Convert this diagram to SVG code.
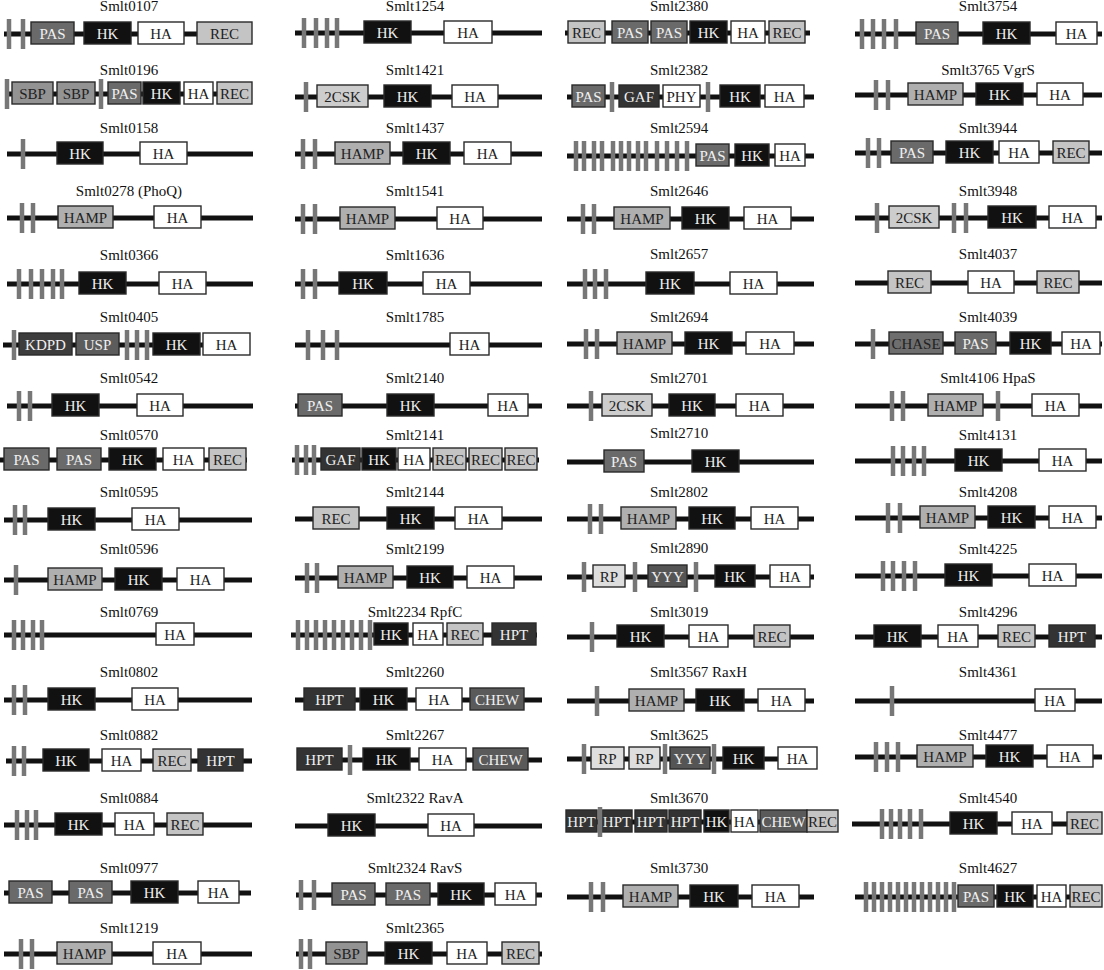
<svg xmlns="http://www.w3.org/2000/svg" width="1104" height="970" viewBox="0 0 1104 970">
<style>
.bb{stroke:#111;stroke-width:5}
.tm{fill:#777}
.b{stroke:#2a2a2a;stroke-width:1.4}
.hk{fill:#111}.ha,.phy{fill:#fff}.pas{fill:#6a6a6a}.rec{fill:#c4c4c4}.hamp{fill:#afafaf}
.sbp{fill:#939393}.hpt,.gaf{fill:#333}.kdpd{fill:#3d3d3d}.usp{fill:#5c5c5c}.chew{fill:#5a5a5a}
.yyy{fill:#555}.chase{fill:#6e6e6e}.csk{fill:#cdcdcd}.rp{fill:#dedede}
text{font-family:"Liberation Serif","Times New Roman",serif;font-size:15px;text-anchor:middle}
.w{fill:#f0f0f0}.k{fill:#222}.t{fill:#111}.ts{text-anchor:start}
</style>
<g id="nodes">
<!-- Column 1 -->
<g id="smlt0107" transform="translate(0,34)"><text class="t" x="129" y="-23">Smlt0107</text><line class="bb" x1="4" x2="252" y1="0" y2="0"/>
<rect class="b pas" x="31" y="-12" width="43" height="22"/><text class="w" x="52.5" y="5">PAS</text>
<rect class="b hk" x="84" y="-12" width="47" height="22"/><text class="w" x="107.5" y="5">HK</text>
<rect class="b ha" x="138" y="-12" width="46" height="22"/><text class="k" x="161" y="5">HA</text>
<rect class="b rec" x="197" y="-12" width="55" height="22"/><text class="k" x="224.5" y="5">REC</text>
<rect class="tm" x="6.75" y="-15" width="4.5" height="30"/><rect class="tm" x="20.75" y="-15" width="4.5" height="30"/></g>

<g id="smlt0196" transform="translate(0,94)"><text class="t" x="129" y="-19">Smlt0196</text><line class="bb" x1="5" x2="252" y1="0" y2="0"/>
<rect class="b sbp" x="12" y="-12" width="41" height="22"/><text class="k" x="32.5" y="5">SBP</text>
<rect class="b sbp" x="57" y="-12" width="38" height="22"/><text class="k" x="76" y="5">SBP</text>
<rect class="b pas" x="108" y="-12" width="33" height="22"/><text class="w" x="124.5" y="5">PAS</text>
<rect class="b hk" x="143" y="-12" width="37" height="22"/><text class="w" x="161.5" y="5">HK</text>
<rect class="b ha" x="184" y="-12" width="29" height="22"/><text class="k" x="198.5" y="5">HA</text>
<rect class="b rec" x="217" y="-12" width="35" height="22"/><text class="k" x="234.5" y="5">REC</text>
<rect class="tm" x="4.75" y="-15" width="4.5" height="30"/><rect class="tm" x="98.75" y="-15" width="4.5" height="30"/></g>

<g id="smlt0158" transform="translate(0,154)"><text class="t" x="129" y="-21">Smlt0158</text><line class="bb" x1="7" x2="253" y1="0" y2="0"/>
<rect class="b hk" x="57" y="-12" width="46" height="22"/><text class="w" x="80" y="5">HK</text>
<rect class="b ha" x="140" y="-12" width="47" height="22"/><text class="k" x="163.5" y="5">HA</text>
<rect class="tm" x="20.75" y="-15" width="4.5" height="30"/></g>

<g id="smlt0278" transform="translate(0,218)"><text class="t" x="129" y="-22">Smlt0278 (PhoQ)</text><line class="bb" x1="7" x2="253" y1="0" y2="0"/>
<rect class="b hamp" x="58" y="-12" width="55" height="22"/><text class="k" x="85.5" y="5">HAMP</text>
<rect class="b ha" x="154" y="-12" width="47" height="22"/><text class="k" x="177.5" y="5">HA</text>
<rect class="tm" x="19.75" y="-15" width="4.5" height="30"/><rect class="tm" x="30.75" y="-15" width="4.5" height="30"/></g>

<g id="smlt0366" transform="translate(0,284)"><text class="t" x="129" y="-24">Smlt0366</text><line class="bb" x1="7" x2="253" y1="0" y2="0"/>
<rect class="b hk" x="79" y="-12" width="47" height="22"/><text class="w" x="102.5" y="5">HK</text>
<rect class="b ha" x="159" y="-12" width="47" height="22"/><text class="k" x="182.5" y="5">HA</text>
<rect class="tm" x="16.75" y="-15" width="4.5" height="30"/><rect class="tm" x="28.75" y="-15" width="4.5" height="30"/><rect class="tm" x="39.75" y="-15" width="4.5" height="30"/><rect class="tm" x="50.75" y="-15" width="4.5" height="30"/><rect class="tm" x="59.75" y="-15" width="4.5" height="30"/></g>

<g id="smlt0405" transform="translate(0,345)"><text class="t" x="129" y="-23">Smlt0405</text><line class="bb" x1="3" x2="250" y1="0" y2="0"/>
<rect class="b kdpd" x="19" y="-12" width="53" height="22"/><text class="w" x="45.5" y="5">KDPD</text>
<rect class="b usp" x="76" y="-12" width="43" height="22"/><text class="w" x="97.5" y="5">USP</text>
<rect class="b hk" x="153" y="-12" width="47" height="22"/><text class="w" x="176.5" y="5">HK</text>
<rect class="b ha" x="203" y="-12" width="47" height="22"/><text class="k" x="226.5" y="5">HA</text>
<rect class="tm" x="11.75" y="-15" width="4.5" height="30"/><rect class="tm" x="124.75" y="-15" width="4.5" height="30"/><rect class="tm" x="134.75" y="-15" width="4.5" height="30"/><rect class="tm" x="144.75" y="-15" width="4.5" height="30"/></g>

<g id="smlt0542" transform="translate(0,406)"><text class="t" x="129" y="-23">Smlt0542</text><line class="bb" x1="7" x2="253" y1="0" y2="0"/>
<rect class="b hk" x="52" y="-12" width="47" height="22"/><text class="w" x="75.5" y="5">HK</text>
<rect class="b ha" x="137" y="-12" width="46" height="22"/><text class="k" x="160" y="5">HA</text>
<rect class="tm" x="16.75" y="-15" width="4.5" height="30"/><rect class="tm" x="27.75" y="-15" width="4.5" height="30"/></g>

<g id="smlt0570" transform="translate(0,460)"><text class="t" x="129" y="-20">Smlt0570</text><line class="bb" x1="0" x2="247" y1="0" y2="0"/>
<rect class="b pas" x="4" y="-12" width="45" height="22"/><text class="w" x="26.5" y="5">PAS</text>
<rect class="b pas" x="57" y="-12" width="44" height="22"/><text class="w" x="79" y="5">PAS</text>
<rect class="b hk" x="109" y="-12" width="47" height="22"/><text class="w" x="132.5" y="5">HK</text>
<rect class="b ha" x="163" y="-12" width="41" height="22"/><text class="k" x="183.5" y="5">HA</text>
<rect class="b rec" x="209" y="-12" width="37" height="22"/><text class="k" x="227.5" y="5">REC</text></g>

<g id="smlt0595" transform="translate(0,520)"><text class="t" x="129" y="-23">Smlt0595</text><line class="bb" x1="4" x2="252" y1="0" y2="0"/>
<rect class="b hk" x="48" y="-12" width="47" height="22"/><text class="w" x="71.5" y="5">HK</text>
<rect class="b ha" x="132" y="-12" width="47" height="22"/><text class="k" x="155.5" y="5">HA</text>
<rect class="tm" x="12.75" y="-15" width="4.5" height="30"/><rect class="tm" x="22.75" y="-15" width="4.5" height="30"/></g>

<g id="smlt0596" transform="translate(0,580)"><text class="t" x="129" y="-26">Smlt0596</text><line class="bb" x1="4" x2="252" y1="0" y2="0"/>
<rect class="b hamp" x="48" y="-12" width="54" height="22"/><text class="k" x="75" y="5">HAMP</text>
<rect class="b hk" x="115" y="-12" width="47" height="22"/><text class="w" x="138.5" y="5">HK</text>
<rect class="b ha" x="177" y="-12" width="47" height="22"/><text class="k" x="200.5" y="5">HA</text>
<rect class="tm" x="13.75" y="-15" width="4.5" height="30"/></g>

<g id="smlt0769" transform="translate(0,635)"><text class="t" x="129" y="-18">Smlt0769</text><line class="bb" x1="4" x2="252" y1="0" y2="0"/>
<rect class="b ha" x="156" y="-12" width="38" height="22"/><text class="k" x="175" y="5">HA</text>
<rect class="tm" x="11.75" y="-15" width="4.5" height="30"/><rect class="tm" x="20.75" y="-15" width="4.5" height="30"/><rect class="tm" x="30.75" y="-15" width="4.5" height="30"/><rect class="tm" x="39.75" y="-15" width="4.5" height="30"/></g>

<g id="smlt0802" transform="translate(0,700)"><text class="t" x="129" y="-23">Smlt0802</text><line class="bb" x1="4" x2="252" y1="0" y2="0"/>
<rect class="b hk" x="48" y="-12" width="47" height="22"/><text class="w" x="71.5" y="5">HK</text>
<rect class="b ha" x="132" y="-12" width="46" height="22"/><text class="k" x="155" y="5">HA</text>
<rect class="tm" x="11.75" y="-15" width="4.5" height="30"/><rect class="tm" x="22.75" y="-15" width="4.5" height="30"/></g>

<g id="smlt0882" transform="translate(0,761)"><text class="t" x="129" y="-21">Smlt0882</text><line class="bb" x1="6" x2="252" y1="0" y2="0"/>
<rect class="b hk" x="43" y="-12" width="46" height="22"/><text class="w" x="66" y="5">HK</text>
<rect class="b ha" x="102" y="-12" width="39" height="22"/><text class="k" x="121.5" y="5">HA</text>
<rect class="b rec" x="153" y="-12" width="38" height="22"/><text class="k" x="172" y="5">REC</text>
<rect class="b hpt" x="198" y="-12" width="45" height="22"/><text class="w" x="220.5" y="5">HPT</text>
<rect class="tm" x="11.75" y="-15" width="4.5" height="30"/><rect class="tm" x="21.75" y="-15" width="4.5" height="30"/></g>

<g id="smlt0884" transform="translate(0,825)"><text class="t" x="129" y="-22">Smlt0884</text><line class="bb" x1="4" x2="252" y1="0" y2="0"/>
<rect class="b hk" x="55" y="-12" width="47" height="22"/><text class="w" x="78.5" y="5">HK</text>
<rect class="b ha" x="115" y="-12" width="39" height="22"/><text class="k" x="134.5" y="5">HA</text>
<rect class="b rec" x="167" y="-12" width="36" height="22"/><text class="k" x="185" y="5">REC</text>
<rect class="tm" x="14.75" y="-15" width="4.5" height="30"/><rect class="tm" x="24.75" y="-15" width="4.5" height="30"/><rect class="tm" x="33.75" y="-15" width="4.5" height="30"/></g>

<g id="smlt0977" transform="translate(0,893)"><text class="t" x="129" y="-20">Smlt0977</text><line class="bb" x1="4" x2="251" y1="0" y2="0"/>
<rect class="b pas" x="9" y="-12" width="43" height="22"/><text class="w" x="30.5" y="5">PAS</text>
<rect class="b pas" x="69" y="-12" width="43" height="22"/><text class="w" x="90.5" y="5">PAS</text>
<rect class="b hk" x="131" y="-12" width="47" height="22"/><text class="w" x="154.5" y="5">HK</text>
<rect class="b ha" x="198" y="-12" width="41" height="22"/><text class="k" x="218.5" y="5">HA</text></g>

<g id="smlt1219" transform="translate(0,954)"><text class="t" x="129" y="-21">Smlt1219</text><line class="bb" x1="4" x2="252" y1="0" y2="0"/>
<rect class="b hamp" x="57" y="-12" width="55" height="22"/><text class="k" x="84.5" y="5">HAMP</text>
<rect class="b ha" x="153" y="-12" width="48" height="22"/><text class="k" x="177" y="5">HA</text>
<rect class="tm" x="18.75" y="-15" width="4.5" height="30"/><rect class="tm" x="29.75" y="-15" width="4.5" height="30"/></g>

<!-- Column 2 -->
<g id="smlt1254" transform="translate(0,33)"><text class="t" x="415" y="-22">Smlt1254</text><line class="bb" x1="295" x2="542" y1="0" y2="0"/>
<rect class="b hk" x="364" y="-12" width="47" height="22"/><text class="w" x="387.5" y="5">HK</text>
<rect class="b ha" x="444" y="-12" width="48" height="22"/><text class="k" x="468" y="5">HA</text>
<rect class="tm" x="301.75" y="-15" width="4.5" height="30"/><rect class="tm" x="313.75" y="-15" width="4.5" height="30"/><rect class="tm" x="324.75" y="-15" width="4.5" height="30"/><rect class="tm" x="334.75" y="-15" width="4.5" height="30"/></g>

<g id="smlt1421" transform="translate(0,97)"><text class="t" x="415" y="-22">Smlt1421</text><line class="bb" x1="295" x2="542" y1="0" y2="0"/>
<rect class="b csk" x="317" y="-12" width="51" height="22"/><text class="k" x="342.5" y="5">2CSK</text>
<rect class="b hk" x="384" y="-12" width="47" height="22"/><text class="w" x="407.5" y="5">HK</text>
<rect class="b ha" x="452" y="-12" width="46" height="22"/><text class="k" x="475" y="5">HA</text>
<rect class="tm" x="303.75" y="-15" width="4.5" height="30"/></g>

<g id="smlt1437" transform="translate(0,154)"><text class="t" x="415" y="-21">Smlt1437</text><line class="bb" x1="295" x2="542" y1="0" y2="0"/>
<rect class="b hamp" x="335" y="-12" width="55" height="22"/><text class="k" x="362.5" y="5">HAMP</text>
<rect class="b hk" x="403" y="-12" width="47" height="22"/><text class="w" x="426.5" y="5">HK</text>
<rect class="b ha" x="464" y="-12" width="47" height="22"/><text class="k" x="487.5" y="5">HA</text>
<rect class="tm" x="300.75" y="-15" width="4.5" height="30"/><rect class="tm" x="312.75" y="-15" width="4.5" height="30"/></g>

<g id="smlt1541" transform="translate(0,219)"><text class="t" x="415" y="-23">Smlt1541</text><line class="bb" x1="295" x2="542" y1="0" y2="0"/>
<rect class="b hamp" x="340" y="-12" width="55" height="22"/><text class="k" x="367.5" y="5">HAMP</text>
<rect class="b ha" x="437" y="-12" width="46" height="22"/><text class="k" x="460" y="5">HA</text>
<rect class="tm" x="300.75" y="-15" width="4.5" height="30"/><rect class="tm" x="312.75" y="-15" width="4.5" height="30"/></g>

<g id="smlt1636" transform="translate(0,284)"><text class="t" x="415" y="-24">Smlt1636</text><line class="bb" x1="295" x2="542" y1="0" y2="0"/>
<rect class="b hk" x="339" y="-12" width="48" height="22"/><text class="w" x="363" y="5">HK</text>
<rect class="b ha" x="423" y="-12" width="47" height="22"/><text class="k" x="446.5" y="5">HA</text>
<rect class="tm" x="300.75" y="-15" width="4.5" height="30"/><rect class="tm" x="312.75" y="-15" width="4.5" height="30"/></g>

<g id="smlt1785" transform="translate(0,345)"><text class="t" x="415" y="-23">Smlt1785</text><line class="bb" x1="295" x2="542" y1="0" y2="0"/>
<rect class="b ha" x="450" y="-12" width="39" height="22"/><text class="k" x="469.5" y="5">HA</text>
<rect class="tm" x="305.75" y="-15" width="4.5" height="30"/><rect class="tm" x="320.75" y="-15" width="4.5" height="30"/><rect class="tm" x="334.75" y="-15" width="4.5" height="30"/></g>

<g id="smlt2140" transform="translate(0,406)"><text class="t" x="415" y="-23">Smlt2140</text><line class="bb" x1="295" x2="542" y1="0" y2="0"/>
<rect class="b pas" x="298" y="-12" width="44" height="22"/><text class="w" x="320" y="5">PAS</text>
<rect class="b hk" x="387" y="-12" width="47" height="22"/><text class="w" x="410.5" y="5">HK</text>
<rect class="b ha" x="488" y="-12" width="40" height="22"/><text class="k" x="508" y="5">HA</text></g>

<g id="smlt2141" transform="translate(0,460)"><text class="t" x="415" y="-20">Smlt2141</text><line class="bb" x1="292" x2="539" y1="0" y2="0"/>
<rect class="b gaf" x="321" y="-12" width="39" height="22"/><text class="w" x="340.5" y="5">GAF</text>
<rect class="b hk" x="362" y="-12" width="34" height="22"/><text class="w" x="379" y="5">HK</text>
<rect class="b ha" x="398" y="-12" width="32" height="22"/><text class="k" x="414" y="5">HA</text>
<rect class="b rec" x="433" y="-12" width="33" height="22"/><text class="k" x="449.5" y="5">REC</text>
<rect class="b rec" x="469" y="-12" width="33" height="22"/><text class="k" x="485.5" y="5">REC</text>
<rect class="b rec" x="505" y="-12" width="32" height="22"/><text class="k" x="521" y="5">REC</text>
<rect class="tm" x="294.75" y="-15" width="4.5" height="30"/><rect class="tm" x="303.75" y="-15" width="4.5" height="30"/><rect class="tm" x="311.75" y="-15" width="4.5" height="30"/></g>

<g id="smlt2144" transform="translate(0,519)"><text class="t" x="415" y="-22">Smlt2144</text><line class="bb" x1="295" x2="542" y1="0" y2="0"/>
<rect class="b rec" x="313" y="-12" width="46" height="22"/><text class="k" x="336" y="5">REC</text>
<rect class="b hk" x="387" y="-12" width="47" height="22"/><text class="w" x="410.5" y="5">HK</text>
<rect class="b ha" x="455" y="-12" width="47" height="22"/><text class="k" x="478.5" y="5">HA</text></g>

<g id="smlt2199" transform="translate(0,578)"><text class="t" x="415" y="-24">Smlt2199</text><line class="bb" x1="295" x2="542" y1="0" y2="0"/>
<rect class="b hamp" x="338" y="-12" width="55" height="22"/><text class="k" x="365.5" y="5">HAMP</text>
<rect class="b hk" x="407" y="-12" width="46" height="22"/><text class="w" x="430" y="5">HK</text>
<rect class="b ha" x="467" y="-12" width="47" height="22"/><text class="k" x="490.5" y="5">HA</text>
<rect class="tm" x="304.75" y="-15" width="4.5" height="30"/><rect class="tm" x="314.75" y="-15" width="4.5" height="30"/></g>

<g id="smlt2234" transform="translate(0,635)"><text class="t" x="415" y="-18">Smlt2234 RpfC</text><line class="bb" x1="291" x2="537" y1="0" y2="0"/>
<rect class="b hk" x="374" y="-12" width="34" height="22"/><text class="w" x="391" y="5">HK</text>
<rect class="b ha" x="413" y="-12" width="30" height="22"/><text class="k" x="428" y="5">HA</text>
<rect class="b rec" x="447" y="-12" width="36" height="22"/><text class="k" x="465" y="5">REC</text>
<rect class="b hpt" x="492" y="-12" width="44" height="22"/><text class="w" x="514" y="5">HPT</text>
<rect class="tm" x="295.75" y="-15" width="4.5" height="30"/><rect class="tm" x="304.75" y="-15" width="4.5" height="30"/><rect class="tm" x="313.75" y="-15" width="4.5" height="30"/><rect class="tm" x="322.75" y="-15" width="4.5" height="30"/><rect class="tm" x="331.75" y="-15" width="4.5" height="30"/><rect class="tm" x="340.75" y="-15" width="4.5" height="30"/><rect class="tm" x="349.75" y="-15" width="4.5" height="30"/><rect class="tm" x="358.75" y="-15" width="4.5" height="30"/><rect class="tm" x="367.75" y="-15" width="4.5" height="30"/></g>

<g id="smlt2260" transform="translate(0,700)"><text class="t" x="415" y="-23">Smlt2260</text><line class="bb" x1="295" x2="542" y1="0" y2="0"/>
<rect class="b hpt" x="304" y="-12" width="51" height="22"/><text class="w" x="329.5" y="5">HPT</text>
<rect class="b hk" x="360" y="-12" width="47" height="22"/><text class="w" x="383.5" y="5">HK</text>
<rect class="b ha" x="416" y="-12" width="46" height="22"/><text class="k" x="439" y="5">HA</text>
<rect class="b chew" x="470" y="-12" width="54" height="22"/><text class="w" x="497" y="5">CHEW</text></g>

<g id="smlt2267" transform="translate(0,760)"><text class="t" x="415" y="-20">Smlt2267</text><line class="bb" x1="297" x2="542" y1="0" y2="0"/>
<rect class="b hpt" x="297" y="-12" width="45" height="22"/><text class="w" x="319.5" y="5">HPT</text>
<rect class="b hk" x="363" y="-12" width="47" height="22"/><text class="w" x="386.5" y="5">HK</text>
<rect class="b ha" x="419" y="-12" width="47" height="22"/><text class="k" x="442.5" y="5">HA</text>
<rect class="b chew" x="473" y="-12" width="55" height="22"/><text class="w" x="500.5" y="5">CHEW</text>
<rect class="tm" x="347.75" y="-15" width="4.5" height="30"/></g>

<g id="smlt2322" transform="translate(0,826)"><text class="t" x="415" y="-23">Smlt2322 RavA</text><line class="bb" x1="295" x2="542" y1="0" y2="0"/>
<rect class="b hk" x="328" y="-12" width="47" height="22"/><text class="w" x="351.5" y="5">HK</text>
<rect class="b ha" x="428" y="-12" width="46" height="22"/><text class="k" x="451" y="5">HA</text></g>

<g id="smlt2324" transform="translate(0,895)"><text class="t" x="415" y="-22">Smlt2324 RavS</text><line class="bb" x1="296" x2="542" y1="0" y2="0"/>
<rect class="b pas" x="332" y="-12" width="43" height="22"/><text class="w" x="353.5" y="5">PAS</text>
<rect class="b pas" x="386" y="-12" width="44" height="22"/><text class="w" x="408" y="5">PAS</text>
<rect class="b hk" x="438" y="-12" width="46" height="22"/><text class="w" x="461" y="5">HK</text>
<rect class="b ha" x="495" y="-12" width="41" height="22"/><text class="k" x="515.5" y="5">HA</text>
<rect class="tm" x="298.75" y="-15" width="4.5" height="30"/><rect class="tm" x="311.75" y="-15" width="4.5" height="30"/></g>

<g id="smlt2365" transform="translate(0,954)"><text class="t" x="415" y="-21">Smlt2365</text><line class="bb" x1="296" x2="542" y1="0" y2="0"/>
<rect class="b sbp" x="326" y="-12" width="41" height="22"/><text class="k" x="346.5" y="5">SBP</text>
<rect class="b hk" x="385" y="-12" width="47" height="22"/><text class="w" x="408.5" y="5">HK</text>
<rect class="b ha" x="447" y="-12" width="40" height="22"/><text class="k" x="467" y="5">HA</text>
<rect class="b rec" x="502" y="-12" width="37" height="22"/><text class="k" x="520.5" y="5">REC</text>
<rect class="tm" x="298.75" y="-15" width="4.5" height="30"/><rect class="tm" x="307.75" y="-15" width="4.5" height="30"/></g>

<!-- Column 3 -->
<g id="smlt2380" transform="translate(0,33)"><text class="t ts" x="650" y="-22">Smlt2380</text><line class="bb" x1="565" x2="810" y1="0" y2="0"/>
<rect class="b rec" x="568" y="-12" width="37" height="22"/><text class="k" x="586.5" y="5">REC</text>
<rect class="b pas" x="612" y="-12" width="36" height="22"/><text class="w" x="630" y="5">PAS</text>
<rect class="b pas" x="651" y="-12" width="36" height="22"/><text class="w" x="669" y="5">PAS</text>
<rect class="b hk" x="690" y="-12" width="37" height="22"/><text class="w" x="708.5" y="5">HK</text>
<rect class="b ha" x="731" y="-12" width="34" height="22"/><text class="k" x="748" y="5">HA</text>
<rect class="b rec" x="769" y="-12" width="36" height="22"/><text class="k" x="787" y="5">REC</text></g>

<g id="smlt2382" transform="translate(0,97)"><text class="t ts" x="650" y="-22">Smlt2382</text><line class="bb" x1="567" x2="814" y1="0" y2="0"/>
<rect class="b pas" x="572" y="-12" width="33" height="22"/><text class="w" x="588.5" y="5">PAS</text>
<rect class="b gaf" x="619" y="-12" width="40" height="22"/><text class="w" x="639" y="5">GAF</text>
<rect class="b phy" x="663" y="-12" width="37" height="22"/><text class="k" x="681.5" y="5">PHY</text>
<rect class="b hk" x="720" y="-12" width="40" height="22"/><text class="w" x="740" y="5">HK</text>
<rect class="b ha" x="765" y="-12" width="39" height="22"/><text class="k" x="784.5" y="5">HA</text>
<rect class="tm" x="609.75" y="-15" width="4.5" height="30"/><rect class="tm" x="705.75" y="-15" width="4.5" height="30"/></g>

<g id="smlt2594" transform="translate(0,156)"><text class="t ts" x="650" y="-23">Smlt2594</text><line class="bb" x1="567" x2="814" y1="0" y2="0"/>
<rect class="b pas" x="696" y="-12" width="33" height="22"/><text class="w" x="712.5" y="5">PAS</text>
<rect class="b hk" x="735" y="-12" width="34" height="22"/><text class="w" x="752" y="5">HK</text>
<rect class="b ha" x="775" y="-12" width="30" height="22"/><text class="k" x="790" y="5">HA</text>
<rect class="tm" x="573.75" y="-15" width="4.5" height="30"/><rect class="tm" x="581.75" y="-15" width="4.5" height="30"/><rect class="tm" x="591.75" y="-15" width="4.5" height="30"/><rect class="tm" x="599.75" y="-15" width="4.5" height="30"/><rect class="tm" x="610.75" y="-15" width="4.5" height="30"/><rect class="tm" x="618.75" y="-15" width="4.5" height="30"/><rect class="tm" x="626.75" y="-15" width="4.5" height="30"/><rect class="tm" x="635.75" y="-15" width="4.5" height="30"/><rect class="tm" x="643.75" y="-15" width="4.5" height="30"/><rect class="tm" x="654.75" y="-15" width="4.5" height="30"/><rect class="tm" x="664.75" y="-15" width="4.5" height="30"/><rect class="tm" x="674.75" y="-15" width="4.5" height="30"/><rect class="tm" x="684.75" y="-15" width="4.5" height="30"/></g>

<g id="smlt2646" transform="translate(0,219)"><text class="t ts" x="650" y="-23">Smlt2646</text><line class="bb" x1="567" x2="814" y1="0" y2="0"/>
<rect class="b hamp" x="614" y="-12" width="56" height="22"/><text class="k" x="642" y="5">HAMP</text>
<rect class="b hk" x="682" y="-12" width="47" height="22"/><text class="w" x="705.5" y="5">HK</text>
<rect class="b ha" x="744" y="-12" width="47" height="22"/><text class="k" x="767.5" y="5">HA</text>
<rect class="tm" x="580.75" y="-15" width="4.5" height="30"/><rect class="tm" x="591.75" y="-15" width="4.5" height="30"/></g>

<g id="smlt2657" transform="translate(0,284)"><text class="t ts" x="650" y="-25">Smlt2657</text><line class="bb" x1="567" x2="814" y1="0" y2="0"/>
<rect class="b hk" x="646" y="-12" width="48" height="22"/><text class="w" x="670" y="5">HK</text>
<rect class="b ha" x="730" y="-12" width="47" height="22"/><text class="k" x="753.5" y="5">HA</text>
<rect class="tm" x="582.75" y="-15" width="4.5" height="30"/><rect class="tm" x="592.75" y="-15" width="4.5" height="30"/><rect class="tm" x="603.75" y="-15" width="4.5" height="30"/></g>

<g id="smlt2694" transform="translate(0,344)"><text class="t ts" x="650" y="-22">Smlt2694</text><line class="bb" x1="567" x2="814" y1="0" y2="0"/>
<rect class="b hamp" x="617" y="-12" width="55" height="22"/><text class="k" x="644.5" y="5">HAMP</text>
<rect class="b hk" x="685" y="-12" width="47" height="22"/><text class="w" x="708.5" y="5">HK</text>
<rect class="b ha" x="746" y="-12" width="48" height="22"/><text class="k" x="770" y="5">HA</text>
<rect class="tm" x="583.75" y="-15" width="4.5" height="30"/><rect class="tm" x="594.75" y="-15" width="4.5" height="30"/></g>

<g id="smlt2701" transform="translate(0,406)"><text class="t ts" x="650" y="-23">Smlt2701</text><line class="bb" x1="567" x2="814" y1="0" y2="0"/>
<rect class="b csk" x="602" y="-12" width="50" height="22"/><text class="k" x="627" y="5">2CSK</text>
<rect class="b hk" x="669" y="-12" width="46" height="22"/><text class="w" x="692" y="5">HK</text>
<rect class="b ha" x="736" y="-12" width="47" height="22"/><text class="k" x="759.5" y="5">HA</text>
<rect class="tm" x="588.75" y="-15" width="4.5" height="30"/></g>

<g id="smlt2710" transform="translate(0,462)"><text class="t ts" x="650" y="-24">Smlt2710</text><line class="bb" x1="567" x2="814" y1="0" y2="0"/>
<rect class="b pas" x="604" y="-12" width="40" height="22"/><text class="w" x="624" y="5">PAS</text>
<rect class="b hk" x="692" y="-12" width="47" height="22"/><text class="w" x="715.5" y="5">HK</text></g>

<g id="smlt2802" transform="translate(0,519)"><text class="t ts" x="650" y="-22">Smlt2802</text><line class="bb" x1="567" x2="814" y1="0" y2="0"/>
<rect class="b hamp" x="621" y="-12" width="55" height="22"/><text class="k" x="648.5" y="5">HAMP</text>
<rect class="b hk" x="689" y="-12" width="46" height="22"/><text class="w" x="712" y="5">HK</text>
<rect class="b ha" x="751" y="-12" width="47" height="22"/><text class="k" x="774.5" y="5">HA</text>
<rect class="tm" x="587.75" y="-15" width="4.5" height="30"/><rect class="tm" x="598.75" y="-15" width="4.5" height="30"/></g>

<g id="smlt2890" transform="translate(0,577)"><text class="t ts" x="650" y="-24">Smlt2890</text><line class="bb" x1="567" x2="814" y1="0" y2="0"/>
<rect class="b rp" x="593" y="-12" width="32" height="22"/><text class="k" x="609" y="5">RP</text>
<rect class="b yyy" x="648" y="-12" width="39" height="22"/><text class="w" x="667.5" y="5">YYY</text>
<rect class="b hk" x="715" y="-12" width="40" height="22"/><text class="w" x="735" y="5">HK</text>
<rect class="b ha" x="770" y="-12" width="40" height="22"/><text class="k" x="790" y="5">HA</text>
<rect class="tm" x="581.75" y="-15" width="4.5" height="30"/><rect class="tm" x="632.75" y="-15" width="4.5" height="30"/><rect class="tm" x="693.75" y="-15" width="4.5" height="30"/></g>

<g id="smlt3019" transform="translate(0,637)"><text class="t ts" x="650" y="-20">Smlt3019</text><line class="bb" x1="567" x2="814" y1="0" y2="0"/>
<rect class="b hk" x="617" y="-12" width="47" height="22"/><text class="w" x="640.5" y="5">HK</text>
<rect class="b ha" x="689" y="-12" width="39" height="22"/><text class="k" x="708.5" y="5">HA</text>
<rect class="b rec" x="754" y="-12" width="36" height="22"/><text class="k" x="772" y="5">REC</text>
<rect class="tm" x="589.75" y="-15" width="4.5" height="30"/></g>

<g id="smlt3567" transform="translate(0,701)"><text class="t ts" x="650" y="-24">Smlt3567 RaxH</text><line class="bb" x1="567" x2="814" y1="0" y2="0"/>
<rect class="b hamp" x="629" y="-12" width="55" height="22"/><text class="k" x="656.5" y="5">HAMP</text>
<rect class="b hk" x="696" y="-12" width="48" height="22"/><text class="w" x="720" y="5">HK</text>
<rect class="b ha" x="758" y="-12" width="47" height="22"/><text class="k" x="781.5" y="5">HA</text>
<rect class="tm" x="594.75" y="-15" width="4.5" height="30"/></g>

<g id="smlt3625" transform="translate(0,759)"><text class="t ts" x="650" y="-19">Smlt3625</text><line class="bb" x1="567" x2="817" y1="0" y2="0"/>
<rect class="b rp" x="591" y="-12" width="33" height="22"/><text class="k" x="607.5" y="5">RP</text>
<rect class="b rp" x="629" y="-12" width="31" height="22"/><text class="k" x="644.5" y="5">RP</text>
<rect class="b yyy" x="670" y="-12" width="40" height="22"/><text class="w" x="690" y="5">YYY</text>
<rect class="b hk" x="723" y="-12" width="41" height="22"/><text class="w" x="743.5" y="5">HK</text>
<rect class="b ha" x="778" y="-12" width="39" height="22"/><text class="k" x="797.5" y="5">HA</text>
<rect class="tm" x="581.75" y="-15" width="4.5" height="30"/><rect class="tm" x="662.75" y="-15" width="4.5" height="30"/><rect class="tm" x="711.75" y="-15" width="4.5" height="30"/></g>

<g id="smlt3670" transform="translate(0,822)"><text class="t ts" x="650" y="-19">Smlt3670</text><line class="bb" x1="566" x2="838" y1="0" y2="0"/>
<rect class="b hpt" x="566" y="-12" width="31" height="22"/><text class="w" x="581.5" y="5">HPT</text>
<rect class="b hpt" x="602" y="-12" width="30" height="22"/><text class="w" x="617" y="5">HPT</text>
<rect class="b hpt" x="635" y="-12" width="32" height="22"/><text class="w" x="651" y="5">HPT</text>
<rect class="b hpt" x="669" y="-12" width="32" height="22"/><text class="w" x="685" y="5">HPT</text>
<rect class="b hk" x="704" y="-12" width="25" height="22"/><text class="w" x="716.5" y="5">HK</text>
<rect class="b ha" x="731" y="-12" width="27" height="22"/><text class="k" x="744.5" y="5">HA</text>
<rect class="b chew" x="760" y="-12" width="47" height="22"/><text class="w" x="783.5" y="5">CHEW</text>
<rect class="b rec" x="807" y="-12" width="31" height="22"/><text class="k" x="822.5" y="5">REC</text>
<rect class="tm" x="597.75" y="-15" width="4.5" height="30"/></g>

<g id="smlt3730" transform="translate(0,897)"><text class="t ts" x="650" y="-24">Smlt3730</text><line class="bb" x1="567" x2="814" y1="0" y2="0"/>
<rect class="b hamp" x="623" y="-12" width="55" height="22"/><text class="k" x="650.5" y="5">HAMP</text>
<rect class="b hk" x="690" y="-12" width="48" height="22"/><text class="w" x="714" y="5">HK</text>
<rect class="b ha" x="752" y="-12" width="47" height="22"/><text class="k" x="775.5" y="5">HA</text>
<rect class="tm" x="588.75" y="-15" width="4.5" height="30"/><rect class="tm" x="600.75" y="-15" width="4.5" height="30"/></g>

<!-- Column 4 -->
<g id="smlt3754" transform="translate(0,34)"><text class="t" x="988" y="-23">Smlt3754</text><line class="bb" x1="855" x2="1102" y1="0" y2="0"/>
<rect class="b pas" x="916" y="-12" width="42" height="22"/><text class="w" x="937" y="5">PAS</text>
<rect class="b hk" x="983" y="-12" width="47" height="22"/><text class="w" x="1006.5" y="5">HK</text>
<rect class="b ha" x="1056" y="-12" width="41" height="22"/><text class="k" x="1076.5" y="5">HA</text>
<rect class="tm" x="859.75" y="-15" width="4.5" height="30"/><rect class="tm" x="870.75" y="-15" width="4.5" height="30"/><rect class="tm" x="881.75" y="-15" width="4.5" height="30"/><rect class="tm" x="893.75" y="-15" width="4.5" height="30"/></g>

<g id="smlt3765" transform="translate(0,95)"><text class="t" x="988" y="-20">Smlt3765 VgrS</text><line class="bb" x1="855" x2="1102" y1="0" y2="0"/>
<rect class="b hamp" x="908" y="-12" width="55" height="22"/><text class="k" x="935.5" y="5">HAMP</text>
<rect class="b hk" x="976" y="-12" width="47" height="22"/><text class="w" x="999.5" y="5">HK</text>
<rect class="b ha" x="1037" y="-12" width="46" height="22"/><text class="k" x="1060" y="5">HA</text>
<rect class="tm" x="873.75" y="-15" width="4.5" height="30"/><rect class="tm" x="885.75" y="-15" width="4.5" height="30"/></g>

<g id="smlt3944" transform="translate(0,153)"><text class="t" x="988" y="-20">Smlt3944</text><line class="bb" x1="855" x2="1102" y1="0" y2="0"/>
<rect class="b pas" x="891" y="-12" width="42" height="22"/><text class="w" x="912" y="5">PAS</text>
<rect class="b hk" x="946" y="-12" width="47" height="22"/><text class="w" x="969.5" y="5">HK</text>
<rect class="b ha" x="999" y="-12" width="40" height="22"/><text class="k" x="1019" y="5">HA</text>
<rect class="b rec" x="1053" y="-12" width="36" height="22"/><text class="k" x="1071" y="5">REC</text>
<rect class="tm" x="865.75" y="-15" width="4.5" height="30"/><rect class="tm" x="876.75" y="-15" width="4.5" height="30"/></g>

<g id="smlt3948" transform="translate(0,218)"><text class="t" x="988" y="-22">Smlt3948</text><line class="bb" x1="855" x2="1102" y1="0" y2="0"/>
<rect class="b csk" x="889" y="-12" width="50" height="22"/><text class="k" x="914" y="5">2CSK</text>
<rect class="b hk" x="988" y="-12" width="48" height="22"/><text class="w" x="1012" y="5">HK</text>
<rect class="b ha" x="1049" y="-12" width="47" height="22"/><text class="k" x="1072.5" y="5">HA</text>
<rect class="tm" x="874.75" y="-15" width="4.5" height="30"/><rect class="tm" x="951.75" y="-15" width="4.5" height="30"/><rect class="tm" x="963.75" y="-15" width="4.5" height="30"/></g>

<g id="smlt4037" transform="translate(0,283)"><text class="t" x="988" y="-24">Smlt4037</text><line class="bb" x1="855" x2="1102" y1="0" y2="0"/>
<rect class="b rec" x="888" y="-12" width="43" height="22"/><text class="k" x="909.5" y="5">REC</text>
<rect class="b ha" x="968" y="-12" width="46" height="22"/><text class="k" x="991" y="5">HA</text>
<rect class="b rec" x="1037" y="-12" width="42" height="22"/><text class="k" x="1058" y="5">REC</text></g>

<g id="smlt4039" transform="translate(0,344)"><text class="t" x="988" y="-22">Smlt4039</text><line class="bb" x1="855" x2="1102" y1="0" y2="0"/>
<rect class="b chase" x="889" y="-12" width="54" height="22"/><text class="k" x="916" y="5">CHASE</text>
<rect class="b pas" x="955" y="-12" width="41" height="22"/><text class="w" x="975.5" y="5">PAS</text>
<rect class="b hk" x="1010" y="-12" width="41" height="22"/><text class="w" x="1030.5" y="5">HK</text>
<rect class="b ha" x="1062" y="-12" width="38" height="22"/><text class="k" x="1081" y="5">HA</text>
<rect class="tm" x="870.75" y="-15" width="4.5" height="30"/></g>

<g id="smlt4106" transform="translate(0,406)"><text class="t" x="988" y="-23">Smlt4106 HpaS</text><line class="bb" x1="855" x2="1102" y1="0" y2="0"/>
<rect class="b hamp" x="928" y="-12" width="55" height="22"/><text class="k" x="955.5" y="5">HAMP</text>
<rect class="b ha" x="1032" y="-12" width="47" height="22"/><text class="k" x="1055.5" y="5">HA</text>
<rect class="tm" x="889.75" y="-15" width="4.5" height="30"/><rect class="tm" x="900.75" y="-15" width="4.5" height="30"/><rect class="tm" x="995.75" y="-15" width="4.5" height="30"/></g>

<g id="smlt4131" transform="translate(0,461)"><text class="t" x="988" y="-21">Smlt4131</text><line class="bb" x1="855" x2="1102" y1="0" y2="0"/>
<rect class="b hk" x="955" y="-12" width="47" height="22"/><text class="w" x="978.5" y="5">HK</text>
<rect class="b ha" x="1039" y="-12" width="47" height="22"/><text class="k" x="1062.5" y="5">HA</text>
<rect class="tm" x="890.75" y="-15" width="4.5" height="30"/><rect class="tm" x="900.75" y="-15" width="4.5" height="30"/><rect class="tm" x="911.75" y="-15" width="4.5" height="30"/><rect class="tm" x="921.75" y="-15" width="4.5" height="30"/></g>

<g id="smlt4208" transform="translate(0,518)"><text class="t" x="988" y="-21">Smlt4208</text><line class="bb" x1="855" x2="1102" y1="0" y2="0"/>
<rect class="b hamp" x="920" y="-12" width="55" height="22"/><text class="k" x="947.5" y="5">HAMP</text>
<rect class="b hk" x="988" y="-12" width="47" height="22"/><text class="w" x="1011.5" y="5">HK</text>
<rect class="b ha" x="1049" y="-12" width="47" height="22"/><text class="k" x="1072.5" y="5">HA</text>
<rect class="tm" x="885.75" y="-15" width="4.5" height="30"/><rect class="tm" x="897.75" y="-15" width="4.5" height="30"/></g>

<g id="smlt4225" transform="translate(0,576)"><text class="t" x="988" y="-22">Smlt4225</text><line class="bb" x1="855" x2="1102" y1="0" y2="0"/>
<rect class="b hk" x="945" y="-12" width="47" height="22"/><text class="w" x="968.5" y="5">HK</text>
<rect class="b ha" x="1029" y="-12" width="47" height="22"/><text class="k" x="1052.5" y="5">HA</text>
<rect class="tm" x="880.75" y="-15" width="4.5" height="30"/><rect class="tm" x="890.75" y="-15" width="4.5" height="30"/><rect class="tm" x="901.75" y="-15" width="4.5" height="30"/><rect class="tm" x="912.75" y="-15" width="4.5" height="30"/></g>

<g id="smlt4296" transform="translate(0,637)"><text class="t" x="988" y="-20">Smlt4296</text><line class="bb" x1="855" x2="1102" y1="0" y2="0"/>
<rect class="b hk" x="874" y="-12" width="47" height="22"/><text class="w" x="897.5" y="5">HK</text>
<rect class="b ha" x="938" y="-12" width="40" height="22"/><text class="k" x="958" y="5">HA</text>
<rect class="b rec" x="998" y="-12" width="37" height="22"/><text class="k" x="1016.5" y="5">REC</text>
<rect class="b hpt" x="1049" y="-12" width="46" height="22"/><text class="w" x="1072" y="5">HPT</text></g>

<g id="smlt4361" transform="translate(0,701)"><text class="t" x="988" y="-24">Smlt4361</text><line class="bb" x1="855" x2="1102" y1="0" y2="0"/>
<rect class="b ha" x="1035" y="-12" width="40" height="22"/><text class="k" x="1055" y="5">HA</text>
<rect class="tm" x="889.75" y="-15" width="4.5" height="30"/></g>

<g id="smlt4477" transform="translate(0,757)"><text class="t" x="988" y="-17">Smlt4477</text><line class="bb" x1="855" x2="1102" y1="0" y2="0"/>
<rect class="b hamp" x="917" y="-12" width="56" height="22"/><text class="k" x="945" y="5">HAMP</text>
<rect class="b hk" x="986" y="-12" width="47" height="22"/><text class="w" x="1009.5" y="5">HK</text>
<rect class="b ha" x="1047" y="-12" width="46" height="22"/><text class="k" x="1070" y="5">HA</text>
<rect class="tm" x="873.75" y="-15" width="4.5" height="30"/><rect class="tm" x="884.75" y="-15" width="4.5" height="30"/><rect class="tm" x="895.75" y="-15" width="4.5" height="30"/></g>

<g id="smlt4540" transform="translate(0,824)"><text class="t" x="988" y="-21">Smlt4540</text><line class="bb" x1="852" x2="1102" y1="0" y2="0"/>
<rect class="b hk" x="950" y="-12" width="47" height="22"/><text class="w" x="973.5" y="5">HK</text>
<rect class="b ha" x="1012" y="-12" width="40" height="22"/><text class="k" x="1032" y="5">HA</text>
<rect class="b rec" x="1067" y="-12" width="35" height="22"/><text class="k" x="1084.5" y="5">REC</text>
<rect class="tm" x="879.75" y="-15" width="4.5" height="30"/><rect class="tm" x="888.75" y="-15" width="4.5" height="30"/><rect class="tm" x="897.75" y="-15" width="4.5" height="30"/><rect class="tm" x="907.75" y="-15" width="4.5" height="30"/><rect class="tm" x="918.75" y="-15" width="4.5" height="30"/></g>

<g id="smlt4627" transform="translate(0,897)"><text class="t" x="988" y="-24">Smlt4627</text><line class="bb" x1="855" x2="1102" y1="0" y2="0"/>
<rect class="b pas" x="958" y="-12" width="36" height="22"/><text class="w" x="976" y="5">PAS</text>
<rect class="b hk" x="997" y="-12" width="36" height="22"/><text class="w" x="1015" y="5">HK</text>
<rect class="b ha" x="1037" y="-12" width="29" height="22"/><text class="k" x="1051.5" y="5">HA</text>
<rect class="b rec" x="1070" y="-12" width="32" height="22"/><text class="k" x="1086" y="5">REC</text>
<rect class="tm" x="863.75" y="-15" width="4.5" height="30"/><rect class="tm" x="871.75" y="-15" width="4.5" height="30"/><rect class="tm" x="879.75" y="-15" width="4.5" height="30"/><rect class="tm" x="887.75" y="-15" width="4.5" height="30"/><rect class="tm" x="895.75" y="-15" width="4.5" height="30"/><rect class="tm" x="903.75" y="-15" width="4.5" height="30"/><rect class="tm" x="911.75" y="-15" width="4.5" height="30"/><rect class="tm" x="919.75" y="-15" width="4.5" height="30"/><rect class="tm" x="927.75" y="-15" width="4.5" height="30"/><rect class="tm" x="935.75" y="-15" width="4.5" height="30"/><rect class="tm" x="943.75" y="-15" width="4.5" height="30"/><rect class="tm" x="951.75" y="-15" width="4.5" height="30"/></g>
</g>
<g id="connectors"/>
</svg>
